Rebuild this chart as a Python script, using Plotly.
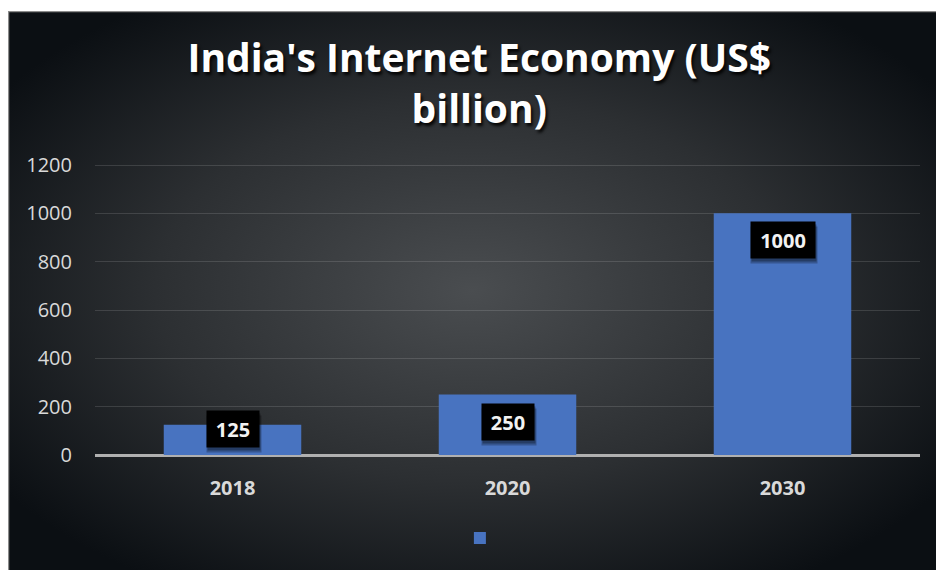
import plotly.graph_objects as go
import base64

years = ["2018", "2020", "2030"]
values = [125, 250, 1000]
y_ticks = [0, 200, 400, 600, 800, 1000, 1200]
title_text = "India's Internet Economy (US$<br>billion)"

W, H = 936, 570
ML, MR, MB = 95, 16, 115
axis_top_px = 165          # pixel row of the top tick
pad_px = 3
MT = axis_top_px - pad_px
plot_w = W - ML - MR
plot_h = H - MT - MB
ppu = (plot_h - pad_px) / y_ticks[-1]
y_range = [0, y_ticks[-1] + pad_px / ppu]

# background panel (radial gradient), in pixel terms
bg_x0, bg_y0, bg_x1, bg_y1 = 8, 11, 936, 570
svg = f'''<svg xmlns="http://www.w3.org/2000/svg" width="{bg_x1-bg_x0}" height="{bg_y1-bg_y0}" viewBox="0 0 {bg_x1-bg_x0} {bg_y1-bg_y0}" preserveAspectRatio="none">
<defs><radialGradient id="g" cx="50%" cy="50%" r="62%">
<stop offset="0" stop-color="#4a4d50"/>
<stop offset="0.55" stop-color="#2c2f32"/>
<stop offset="1" stop-color="#0b0f13"/>
</radialGradient></defs>
<rect x="0" y="0" width="{bg_x1-bg_x0}" height="{bg_y1-bg_y0}" fill="url(#g)"/>
<line x1="0" y1="0.5" x2="{bg_x1-bg_x0}" y2="0.5" stroke="#8c8c8c" stroke-width="1.5"/>
<line x1="0.5" y1="0" x2="0.5" y2="{bg_y1-bg_y0}" stroke="#8c8c8c" stroke-width="1.5"/>
</svg>'''
src = "data:image/svg+xml;base64," + base64.b64encode(svg.encode()).decode()

def px_to_paper_x(px):
    return (px - ML) / plot_w

def px_to_paper_y(py):
    return (H - MB - py) / plot_h

fig = go.Figure()
fig.add_trace(go.Bar(
    x=years, y=values, name=" ",
    marker=dict(color="#4873c0", line=dict(width=0)),
    showlegend=True,
))

fig.add_layout_image(dict(
    source=src, xref="paper", yref="paper",
    x=px_to_paper_x(bg_x0), y=px_to_paper_y(bg_y0),
    sizex=(bg_x1 - bg_x0) / plot_w, sizey=(bg_y1 - bg_y0) / plot_h,
    xanchor="left", yanchor="top", sizing="stretch", layer="below",
))

for i, v in enumerate(values):
    shift = -min(27, v * ppu - 26)
    w = 12 * len(str(v)) + 16
    fig.add_annotation(x=i, y=v, yshift=shift - 5, xshift=1, text=" ",
                       showarrow=False, width=w + 2, height=36,
                       bgcolor="rgba(0,0,0,0.25)", borderpad=0)
    fig.add_annotation(x=i, y=v, yshift=shift - 3, xshift=1, text=" ",
                       showarrow=False, width=w, height=36,
                       bgcolor="rgba(0,0,0,0.3)", borderpad=0)
    fig.add_annotation(x=i, y=v, yshift=shift, text=f"<b>{v}</b>",
                       showarrow=False, width=w, height=36,
                       bgcolor="#000000", borderpad=0,
                       font=dict(family="Open Sans", size=20, color="#f2f2f2"))

fig.update_layout(
    width=W, height=H,
    margin=dict(l=ML, r=MR, t=MT, b=MB),
    paper_bgcolor="#ffffff",
    plot_bgcolor="rgba(0,0,0,0)",
    bargap=0.5,
    title=dict(text=f"<b>{title_text}</b>", x=0.512, xanchor="center",
               y=1 - 72 / H, yanchor="top",
               font=dict(family="Open Sans", size=39, color="#ffffff",
                         shadow="2px 3px 3px rgba(0,0,0,0.85)")),
    xaxis=dict(type="category", range=[-0.5, len(years) - 0.5],
               showgrid=False, ticks="", showline=False, ticklabelstandoff=19,
               tickfont=dict(family="Open Sans", size=20, color="#d9d9d9", weight="bold")),
    yaxis=dict(range=y_range, tickvals=y_ticks, showgrid=True,
               gridcolor="rgba(255,255,255,0.13)", gridwidth=1,
               zeroline=True, zerolinecolor="#b0b0b0", zerolinewidth=2.5,
               ticks="", ticklabelstandoff=22,
               tickfont=dict(family="Open Sans", size=20, color="#d9d9d9")),
    legend=dict(orientation="h", x=0.472, xanchor="center", y=-0.23, yanchor="top",
                font=dict(size=14, color="#d9d9d9"), bgcolor="rgba(0,0,0,0)"),
    showlegend=True,
)

fig.write_html("out.html")
